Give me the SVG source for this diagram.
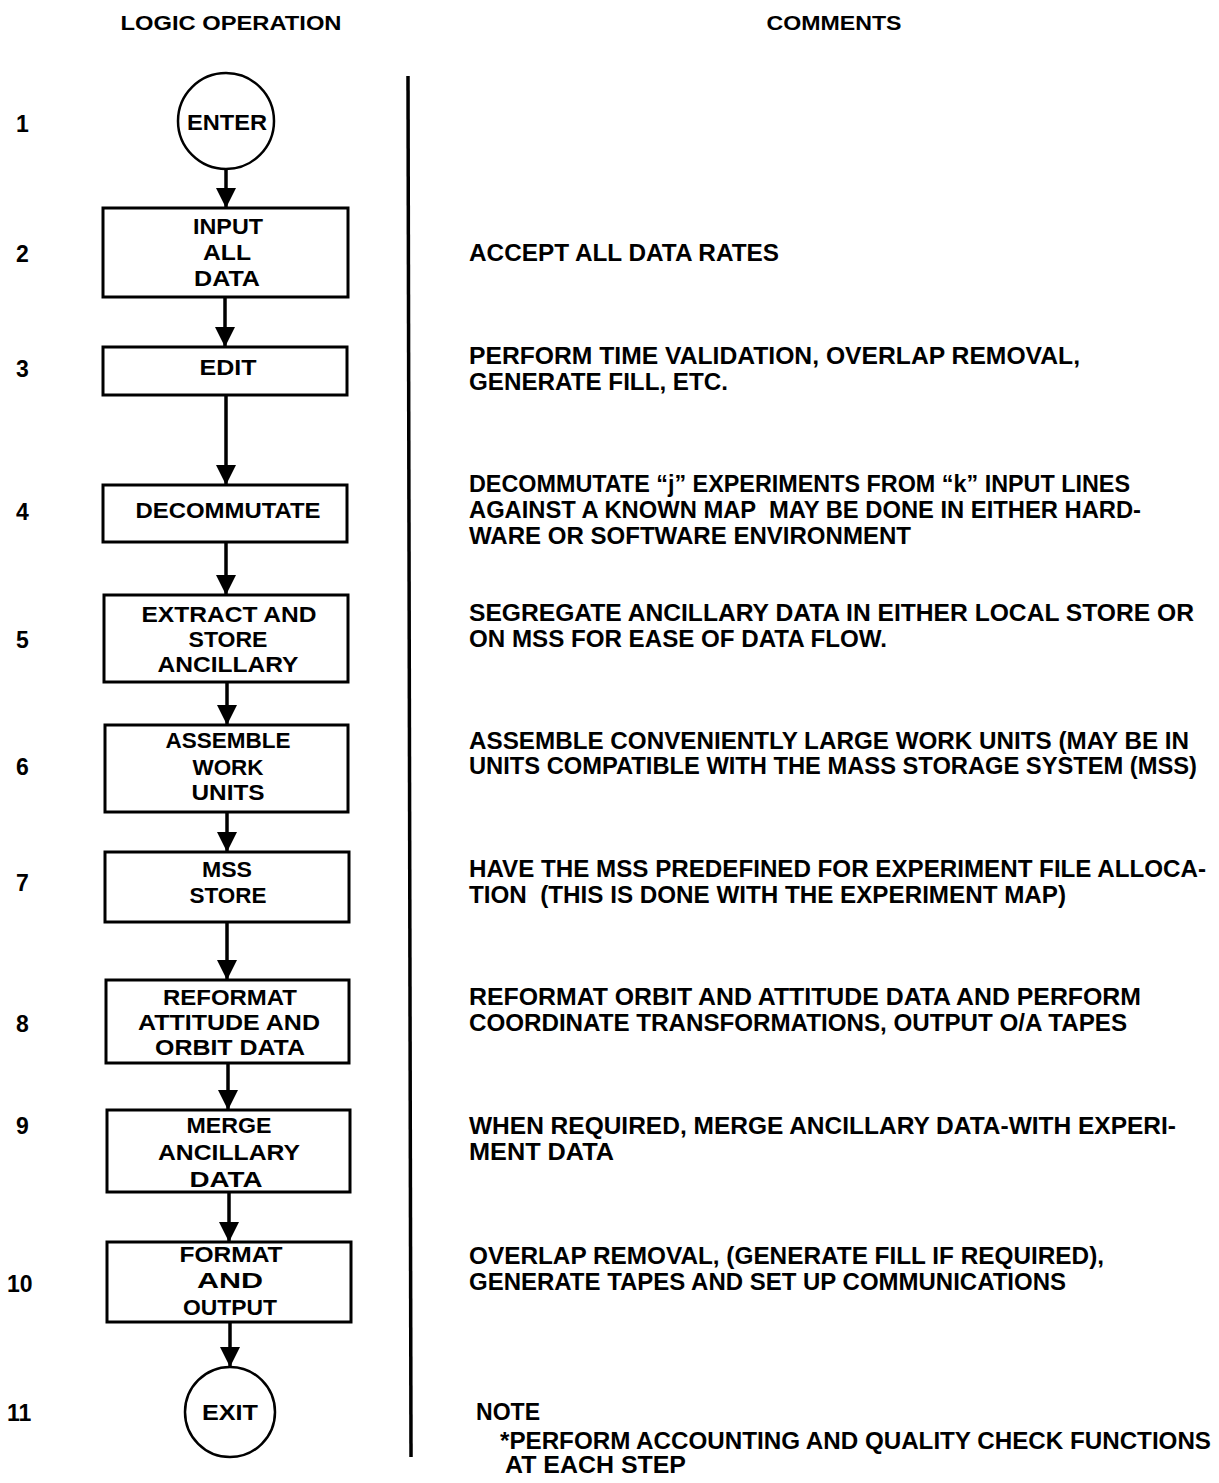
<svg xmlns="http://www.w3.org/2000/svg" width="1219" height="1483" viewBox="0 0 1219 1483">
  <style>
    text { font-family: "Liberation Sans", Arial, Helvetica, sans-serif; fill: #000; font-weight: bold; }
    .hdr { font-size: 21px; text-anchor: middle; }
    .num { font-size: 23px; }
    .lbl { font-size: 22px; text-anchor: middle; }
    .cmt { font-size: 23.5px; white-space: pre; }
    .box { fill: #fff; stroke: #000; stroke-width: 3; }
    .term { fill: #fff; stroke: #000; stroke-width: 2.5; }
    .flow { stroke: #000; stroke-width: 3.5; fill: none; marker-end: url(#head); }
  </style>
  <defs>
    <marker id="head" markerUnits="userSpaceOnUse" markerWidth="20" markerHeight="20" viewBox="0 0 18 18" refX="18" refY="9" orient="auto">
      <path d="M0,0 L18,9 L0,18 Z" fill="#000"/>
    </marker>
  </defs>
  <rect width="1219" height="1483" fill="#fff"/>

  <!-- column headings -->
  <text class="hdr" x="231" y="30" textLength="221" lengthAdjust="spacingAndGlyphs">LOGIC OPERATION</text>
  <text class="hdr" x="834" y="30" textLength="135" lengthAdjust="spacingAndGlyphs">COMMENTS</text>

  <!-- step numbers -->
  <g id="step-numbers">
    <text class="num" x="16" y="132">1</text>
    <text class="num" x="16" y="262">2</text>
    <text class="num" x="16" y="377">3</text>
    <text class="num" x="16" y="520">4</text>
    <text class="num" x="16" y="648">5</text>
    <text class="num" x="16" y="775">6</text>
    <text class="num" x="16" y="891">7</text>
    <text class="num" x="16" y="1032">8</text>
    <text class="num" x="16" y="1134">9</text>
    <text class="num" x="7" y="1292">10</text>
    <text class="num" x="7" y="1421">11</text>
  </g>

  <!-- column divider -->
  <line x1="408" y1="76" x2="411" y2="1457" stroke="#000" stroke-width="3.5"/>

  <!-- connectors -->
  <g id="connectors">
    <line class="flow" x1="226" y1="169" x2="226" y2="208"/>
    <line class="flow" x1="225" y1="297" x2="225" y2="347"/>
    <line class="flow" x1="226" y1="395" x2="226" y2="485"/>
    <line class="flow" x1="226" y1="542" x2="226" y2="595"/>
    <line class="flow" x1="227" y1="682" x2="227" y2="725"/>
    <line class="flow" x1="227" y1="812" x2="227" y2="852"/>
    <line class="flow" x1="227" y1="922" x2="227" y2="980"/>
    <line class="flow" x1="228" y1="1063" x2="228" y2="1110"/>
    <line class="flow" x1="229" y1="1192" x2="229" y2="1242"/>
    <line class="flow" x1="230" y1="1322" x2="230" y2="1367"/>
  </g>

  <!-- flowchart nodes -->
  <g id="enter">
    <circle class="term" cx="226" cy="121" r="48"/>
    <text class="lbl" x="227" y="130" textLength="80" lengthAdjust="spacingAndGlyphs">ENTER</text>
  </g>
  <g id="input-all-data">
    <rect class="box" x="103" y="208" width="245" height="89"/>
    <text class="lbl" x="228" y="234" textLength="70" lengthAdjust="spacingAndGlyphs">INPUT</text>
    <text class="lbl" x="227" y="260" textLength="48" lengthAdjust="spacingAndGlyphs">ALL</text>
    <text class="lbl" x="227" y="286" textLength="66" lengthAdjust="spacingAndGlyphs">DATA</text>
  </g>
  <g id="edit">
    <rect class="box" x="103" y="347" width="244" height="48"/>
    <text class="lbl" x="228" y="375" textLength="57" lengthAdjust="spacingAndGlyphs">EDIT</text>
  </g>
  <g id="decommutate">
    <rect class="box" x="103" y="485" width="244" height="57"/>
    <text class="lbl" x="228" y="518" textLength="185" lengthAdjust="spacingAndGlyphs">DECOMMUTATE</text>
  </g>
  <g id="extract-store">
    <rect class="box" x="104" y="595" width="244" height="87"/>
    <text class="lbl" x="229" y="622" textLength="175" lengthAdjust="spacingAndGlyphs">EXTRACT AND</text>
    <text class="lbl" x="228" y="647" textLength="79" lengthAdjust="spacingAndGlyphs">STORE</text>
    <text class="lbl" x="228" y="672" textLength="141" lengthAdjust="spacingAndGlyphs">ANCILLARY</text>
  </g>
  <g id="assemble-work-units">
    <rect class="box" x="105" y="725" width="243" height="87"/>
    <text class="lbl" x="228" y="748" textLength="125" lengthAdjust="spacingAndGlyphs">ASSEMBLE</text>
    <text class="lbl" x="228" y="775" textLength="71" lengthAdjust="spacingAndGlyphs">WORK</text>
    <text class="lbl" x="228" y="800" textLength="73" lengthAdjust="spacingAndGlyphs">UNITS</text>
  </g>
  <g id="mss-store">
    <rect class="box" x="105" y="852" width="244" height="70"/>
    <text class="lbl" x="227" y="877" textLength="50" lengthAdjust="spacingAndGlyphs">MSS</text>
    <text class="lbl" x="228" y="903" textLength="77" lengthAdjust="spacingAndGlyphs">STORE</text>
  </g>
  <g id="reformat">
    <rect class="box" x="106" y="980" width="243" height="83"/>
    <text class="lbl" x="230" y="1005" textLength="134" lengthAdjust="spacingAndGlyphs">REFORMAT</text>
    <text class="lbl" x="229" y="1030" textLength="182" lengthAdjust="spacingAndGlyphs">ATTITUDE AND</text>
    <text class="lbl" x="230" y="1055" textLength="150" lengthAdjust="spacingAndGlyphs">ORBIT DATA</text>
  </g>
  <g id="merge-ancillary">
    <rect class="box" x="107" y="1110" width="243" height="82"/>
    <text class="lbl" x="229" y="1133" textLength="85" lengthAdjust="spacingAndGlyphs">MERGE</text>
    <text class="lbl" x="229" y="1160" textLength="142" lengthAdjust="spacingAndGlyphs">ANCILLARY</text>
    <text class="lbl" x="226" y="1187" textLength="73" lengthAdjust="spacingAndGlyphs">DATA</text>
  </g>
  <g id="format-output">
    <rect class="box" x="107" y="1242" width="244" height="80"/>
    <text class="lbl" x="231" y="1262" textLength="103" lengthAdjust="spacingAndGlyphs">FORMAT</text>
    <text class="lbl" x="230" y="1288" textLength="66" lengthAdjust="spacingAndGlyphs">AND</text>
    <text class="lbl" x="230" y="1315" textLength="94" lengthAdjust="spacingAndGlyphs">OUTPUT</text>
  </g>
  <g id="exit">
    <circle class="term" cx="230" cy="1412" r="45"/>
    <text class="lbl" x="230" y="1420" textLength="56" lengthAdjust="spacingAndGlyphs">EXIT</text>
  </g>

  <!-- comments column -->
  <g id="comments">
    <text class="cmt" x="469" y="261" textLength="310" lengthAdjust="spacingAndGlyphs">ACCEPT ALL DATA RATES</text>
    <text class="cmt" x="469" y="364" textLength="611" lengthAdjust="spacingAndGlyphs">PERFORM TIME VALIDATION, OVERLAP REMOVAL,</text>
    <text class="cmt" x="469" y="390" textLength="259" lengthAdjust="spacingAndGlyphs">GENERATE FILL, ETC.</text>
    <text class="cmt" x="469" y="492" textLength="661" lengthAdjust="spacingAndGlyphs">DECOMMUTATE “j” EXPERIMENTS FROM “k” INPUT LINES</text>
    <text class="cmt" x="469" y="518" textLength="672" lengthAdjust="spacingAndGlyphs">AGAINST A KNOWN MAP  MAY BE DONE IN EITHER HARD-</text>
    <text class="cmt" x="469" y="544" textLength="442" lengthAdjust="spacingAndGlyphs">WARE OR SOFTWARE ENVIRONMENT</text>
    <text class="cmt" x="469" y="621" textLength="725" lengthAdjust="spacingAndGlyphs">SEGREGATE ANCILLARY DATA IN EITHER LOCAL STORE OR</text>
    <text class="cmt" x="469" y="647" textLength="418" lengthAdjust="spacingAndGlyphs">ON MSS FOR EASE OF DATA FLOW.</text>
    <text class="cmt" x="469" y="749" textLength="720" lengthAdjust="spacingAndGlyphs">ASSEMBLE CONVENIENTLY LARGE WORK UNITS (MAY BE IN</text>
    <text class="cmt" x="469" y="774" textLength="728" lengthAdjust="spacingAndGlyphs">UNITS COMPATIBLE WITH THE MASS STORAGE SYSTEM (MSS)</text>
    <text class="cmt" x="469" y="877" textLength="737" lengthAdjust="spacingAndGlyphs">HAVE THE MSS PREDEFINED FOR EXPERIMENT FILE ALLOCA-</text>
    <text class="cmt" x="469" y="903" textLength="597" lengthAdjust="spacingAndGlyphs">TION  (THIS IS DONE WITH THE EXPERIMENT MAP)</text>
    <text class="cmt" x="469" y="1005" textLength="672" lengthAdjust="spacingAndGlyphs">REFORMAT ORBIT AND ATTITUDE DATA AND PERFORM</text>
    <text class="cmt" x="469" y="1031" textLength="658" lengthAdjust="spacingAndGlyphs">COORDINATE TRANSFORMATIONS, OUTPUT O/A TAPES</text>
    <text class="cmt" x="469" y="1134" textLength="707" lengthAdjust="spacingAndGlyphs">WHEN REQUIRED, MERGE ANCILLARY DATA-WITH EXPERI-</text>
    <text class="cmt" x="469" y="1160" textLength="145" lengthAdjust="spacingAndGlyphs">MENT DATA</text>
    <text class="cmt" x="469" y="1264" textLength="635" lengthAdjust="spacingAndGlyphs">OVERLAP REMOVAL, (GENERATE FILL IF REQUIRED),</text>
    <text class="cmt" x="469" y="1290" textLength="597" lengthAdjust="spacingAndGlyphs">GENERATE TAPES AND SET UP COMMUNICATIONS</text>
    <text class="cmt" x="476" y="1420" textLength="64" lengthAdjust="spacingAndGlyphs">NOTE</text>
    <text class="cmt" x="500" y="1449" textLength="711" lengthAdjust="spacingAndGlyphs">*PERFORM ACCOUNTING AND QUALITY CHECK FUNCTIONS</text>
    <text class="cmt" x="505" y="1473" textLength="181" lengthAdjust="spacingAndGlyphs">AT EACH STEP</text>
  </g>
</svg>
